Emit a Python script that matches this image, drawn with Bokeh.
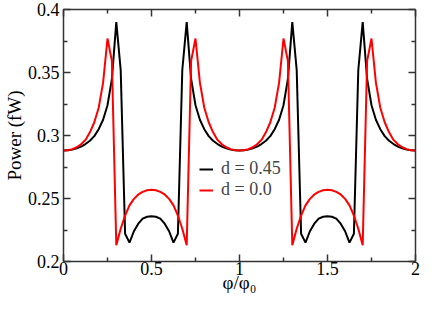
from bokeh.plotting import figure
from bokeh.models import Range1d, FixedTicker, LinearAxis, Legend, LegendItem, CustomJSTickFormatter
from bokeh.embed import file_html
from bokeh.resources import INLINE

# ---- data ----
phi = [round(i * 0.025, 3) for i in range(81)]

power_d045 = [
    0.2880, 0.2882, 0.2888, 0.2898, 0.2912, 0.2932, 0.2958, 0.2995, 0.3050, 0.3125,
    0.3240, 0.3450, 0.3900, 0.3520, 0.2220, 0.2150, 0.2240, 0.2300, 0.2340, 0.2355,
    0.2360, 0.2355, 0.2340, 0.2300, 0.2240, 0.2150, 0.2220, 0.3520, 0.3900, 0.3450,
    0.3240, 0.3125, 0.3050, 0.2995, 0.2958, 0.2932, 0.2912, 0.2898, 0.2888, 0.2882,
    0.2880, 0.2882, 0.2888, 0.2898, 0.2912, 0.2932, 0.2958, 0.2995, 0.3050, 0.3125,
    0.3240, 0.3450, 0.3900, 0.3520, 0.2220, 0.2150, 0.2240, 0.2300, 0.2340, 0.2355,
    0.2360, 0.2355, 0.2340, 0.2300, 0.2240, 0.2150, 0.2220, 0.3520, 0.3900, 0.3450,
    0.3240, 0.3125, 0.3050, 0.2995, 0.2958, 0.2932, 0.2912, 0.2898, 0.2888, 0.2882,
    0.2880,
]

power_d0 = [
    0.2880, 0.2883, 0.2892, 0.2907, 0.2930, 0.2965, 0.3025, 0.3105, 0.3220, 0.3420,
    0.3770, 0.3590, 0.2130, 0.2260, 0.2365, 0.2445, 0.2497, 0.2532, 0.2553, 0.2565,
    0.2570, 0.2565, 0.2553, 0.2532, 0.2497, 0.2445, 0.2365, 0.2260, 0.2130, 0.3590,
    0.3770, 0.3420, 0.3220, 0.3105, 0.3025, 0.2965, 0.2930, 0.2907, 0.2892, 0.2883,
    0.2880, 0.2883, 0.2892, 0.2907, 0.2930, 0.2965, 0.3025, 0.3105, 0.3220, 0.3420,
    0.3770, 0.3590, 0.2130, 0.2260, 0.2365, 0.2445, 0.2497, 0.2532, 0.2553, 0.2565,
    0.2570, 0.2565, 0.2553, 0.2532, 0.2497, 0.2445, 0.2365, 0.2260, 0.2130, 0.3590,
    0.3770, 0.3420, 0.3220, 0.3105, 0.3025, 0.2965, 0.2930, 0.2907, 0.2892, 0.2883,
    0.2880,
]

series_labels = ["d = 0.45", "d = 0.0"]
series_colors = ["black", "red"]

x_ticks = [0, 0.5, 1, 1.5, 2]
x_tick_labels = ["0", "0.5", "1", "1.5", "2"]
x_minor = [0.25, 0.75, 1.25, 1.75]
y_ticks = [0.2, 0.25, 0.3, 0.35, 0.4]
y_tick_labels = ["0.2", "0.25", "0.3", "0.35", "0.4"]
y_minor = [0.225, 0.275, 0.325, 0.375]

x_title = "\u03c6/\u03c6\u2080"
y_title = "Power (fW)"

FONT = "Liberation Serif"
AXC = "#333333"

p = figure(width=420, height=295, x_range=Range1d(0, 2), y_range=Range1d(0.2, 0.4),
           output_backend="svg", toolbar_location=None,
           min_border_left=0, min_border_right=5, min_border_top=9, min_border_bottom=0)
p.outline_line_color = None
p.xgrid.visible = False
p.ygrid.visible = False
p.background_fill_color = "white"
p.border_fill_color = "white"

r1 = p.line(phi, power_d045, line_color=series_colors[0], line_width=2)
r2 = p.line(phi, power_d0, line_color=series_colors[1], line_width=2)


def style_axis(ax, ticks, minor, labels, show_labels):
    ax.ticker = FixedTicker(ticks=ticks, minor_ticks=minor)
    ax.axis_line_color = AXC
    ax.axis_line_width = 1.5
    ax.major_tick_line_color = AXC
    ax.minor_tick_line_color = AXC
    ax.major_tick_line_width = 1.5
    ax.minor_tick_line_width = 1.5
    ax.major_tick_in = 7
    ax.major_tick_out = 0
    ax.minor_tick_in = 4
    ax.minor_tick_out = 0
    if show_labels:
        ax.major_label_overrides = {t: l for t, l in zip(ticks, labels)}
        ax.major_label_text_font = FONT
        ax.major_label_text_font_size = "18px"
        ax.major_label_text_color = "black"
        ax.axis_label_text_font = FONT
        ax.axis_label_text_font_size = "19px"
        ax.axis_label_text_font_style = "normal"
        ax.axis_label_text_color = "black"
    else:
        ax.formatter = CustomJSTickFormatter(code="return ''")
        ax.major_label_standoff = 0


xa = p.xaxis[0]
style_axis(xa, x_ticks, x_minor, x_tick_labels, True)
xa.axis_label = x_title
xa.major_label_standoff = 0
xa.axis_label_standoff = -6

ya = p.yaxis[0]
style_axis(ya, y_ticks, y_minor, y_tick_labels, True)
ya.axis_label = y_title
ya.major_label_standoff = 4
ya.axis_label_standoff = 0

top = LinearAxis()
style_axis(top, x_ticks, x_minor, x_tick_labels, False)
p.add_layout(top, "above")
right = LinearAxis()
style_axis(right, y_ticks, y_minor, y_tick_labels, False)
p.add_layout(right, "right")


def make_legend(label, renderer, loc):
    lg = Legend(items=[LegendItem(label=label, renderers=[renderer])], location=loc)
    lg.border_line_color = None
    lg.background_fill_alpha = 0
    lg.padding = 0
    lg.margin = 0
    lg.spacing = 0
    lg.glyph_width = 14
    lg.glyph_height = 16
    lg.label_height = 16
    lg.label_standoff = 8
    lg.label_text_font = FONT
    lg.label_text_font_size = "18px"
    lg.label_text_baseline = "middle"
    p.add_layout(lg, "center")


make_legend(series_labels[0], r1, (136, 82))
make_legend(series_labels[1], r2, (136, 61))

open("out.html", "w").write(file_html(p, INLINE))
